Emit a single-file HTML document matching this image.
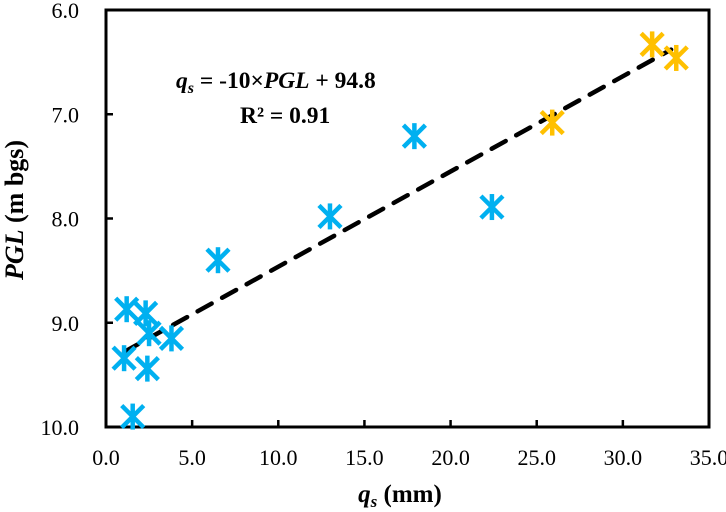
<!DOCTYPE html>
<html><head><meta charset="utf-8"><style>
body{margin:0;background:#fff}
svg{display:block;font-family:"Liberation Serif",serif}
</style></head><body>
<svg width="726" height="512" viewBox="0 0 726 512">
<rect x="106" y="10" width="603" height="417" fill="#fff" stroke="#000" stroke-width="3"/>
<g id="ticks"></g>
<g id="marks"></g>
<text x="176" y="88" font-size="23.5" font-weight="bold"><tspan font-style="italic">q</tspan><tspan font-style="italic" font-size="16" dy="5">s</tspan><tspan dy="-5"> = -10×</tspan><tspan font-style="italic">PGL</tspan><tspan> + 94.8</tspan></text>
<text x="240" y="123" font-size="23.5" font-weight="bold">R² = 0.91</text>
<text x="400" y="502" font-size="25" font-weight="bold" text-anchor="middle"><tspan font-style="italic">q</tspan><tspan font-style="italic" font-size="17" dy="5">s</tspan><tspan dy="-5"> (mm)</tspan></text>
<text transform="translate(23,210) rotate(-90)" font-size="26" font-weight="bold" text-anchor="middle"><tspan font-style="italic">PGL</tspan> (m bgs)</text>
</svg>
<script>
const blueX=[1.2,2.3,2.5,3.8,1.05,2.4,1.55,6.5,13.0,17.9,22.4];
const blueY=[8.87,8.91,9.1,9.15,9.34,9.44,9.9,8.4,7.98,7.21,7.89];
const orangeX=[25.9,31.7,33.1];
const orangeY=[7.08,6.33,6.46];
const trendX=[1.05,32.8];
const trendY=[9.28,6.38];
const xTicks=[0,5,10,15,20,25,30,35];
const yTicks=[6,7,8,9,10];
const NS="http://www.w3.org/2000/svg";
const L=106,R=709,T=10,B=427;
const sx=v=>L+(v-0)/(35-0)*(R-L);
const sy=v=>T+(v-6)/(10-6)*(B-T);
const tg=document.getElementById('ticks'),mg=document.getElementById('marks');
function mk(t,a,p){const e=document.createElementNS(NS,t);for(const k in a)e.setAttribute(k,a[k]);p.appendChild(e);return e;}
xTicks.forEach(v=>{
 const l=mk('line',{x1:sx(v),x2:sx(v),y1:B,y2:B-7,stroke:'#000','stroke-width':2.5},tg);
 
 
 const t=mk('text',{x:sx(v),y:465,'font-size':22,'text-anchor':'middle'},tg);
 t.textContent=v.toFixed(1);
 
 
});
yTicks.forEach(v=>{
 const l=mk('line',{x1:L,x2:L+7,y1:sy(v),y2:sy(v),stroke:'#000','stroke-width':2.5},tg);
 
 
 const t=mk('text',{x:79,y:sy(v)+8,'font-size':22,'text-anchor':'end'},tg);
 t.textContent=v.toFixed(1);
 
 
});
const tl=mk('line',{x1:sx(trendX[0]),y1:sy(trendY[0]),x2:sx(trendX[1]),y2:sy(trendY[1]),stroke:'#000','stroke-width':4.5,'stroke-dasharray':'16 12','stroke-linecap':'round'},mg);


function star(x,y,c,name){
 const g=mk('g',{stroke:c,'stroke-width':4.5},mg);
 
 
 const X=sx(x),Y=sy(y),d=11;
 mk('line',{x1:X-d,y1:Y-d,x2:X+d,y2:Y+d},g);
 mk('line',{x1:X-d,y1:Y+d,x2:X+d,y2:Y-d},g);
 mk('line',{x1:X,y1:Y-13,x2:X,y2:Y+13},g);
}
blueX.forEach((x,i)=>star(x,blueY[i],'#00B0F0','blue-point'));
orangeX.forEach((x,i)=>star(x,orangeY[i],'#FFC000','orange-point'));
</script>
</body></html>
